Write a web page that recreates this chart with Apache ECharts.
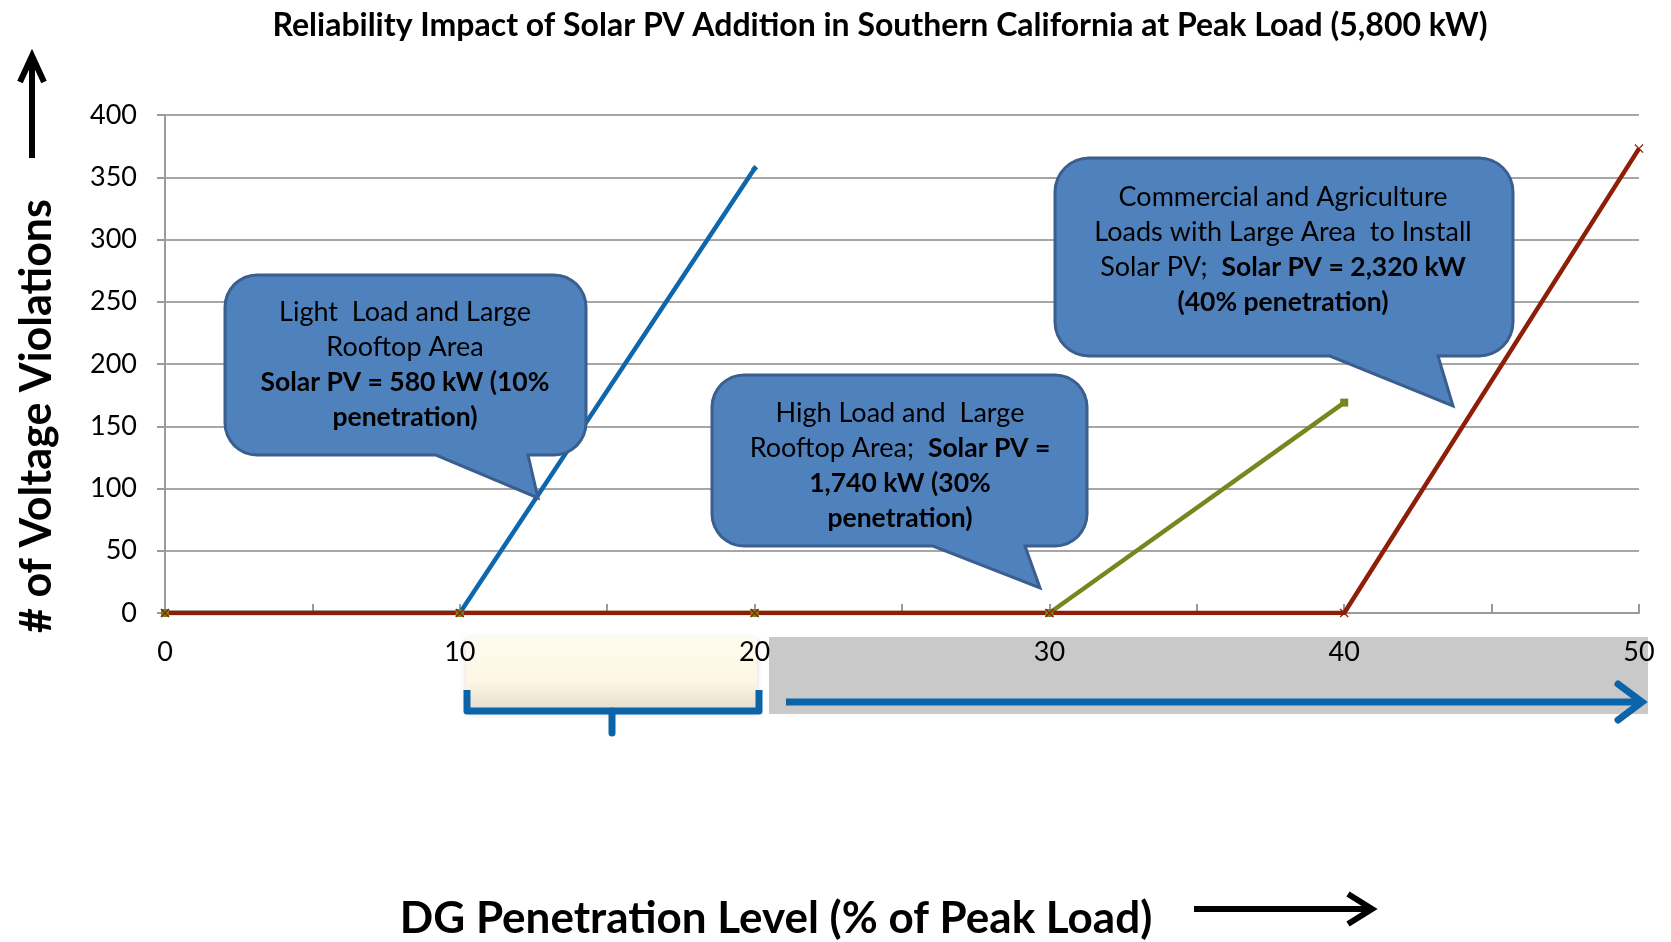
<!DOCTYPE html>
<html>
<head>
<meta charset="utf-8">
<title>Reliability Impact of Solar PV Addition</title>
<script src="https://cdn.jsdelivr.net/npm/echarts@6/dist/echarts.min.js"></script>
<style>
  html, body { margin: 0; padding: 0; background: #fff; }
  #chart { width: 1671px; height: 942px; }
</style>
</head>
<body>
<div id="chart"></div>
<script>
// data
const penetration = [0, 10, 20, 30, 40, 50];        // DG penetration level, % of peak load
const lightLoad = [0, 0, 357];                      // light load, large rooftop area
const highLoad = [0, 0, 0, 0, 169];                 // high load, large rooftop area
const commercial = [0, 0, 0, 0, 0, 373];            // commercial / agriculture loads

const FONT = 'Lato, "Open Sans", sans-serif';

function pairs(values) {
  return values.map((v, i) => [penetration[i], v]);
}

// speech bubble outline: rounded box plus a tail going down to (tx, ty)
function bubble(x, y, w, h, r, b1, b2, tx, ty) {
  const pts = [];
  const corner = (cx, cy, a0) => {
    for (let k = 0; k <= 8; k++) {
      const a = a0 + (Math.PI / 2) * k / 8;
      pts.push([cx + r * Math.cos(a), cy + r * Math.sin(a)]);
    }
  };
  corner(x + r, y + r, Math.PI);                 // top left
  corner(x + w - r, y + r, -Math.PI / 2);        // top right
  corner(x + w - r, y + h - r, 0);               // bottom right
  pts.push([b2, y + h], [tx, ty], [b1, y + h]);
  corner(x + r, y + h - r, Math.PI / 2);         // bottom left
  return pts;
}

const rich = {
  w: { color: '#ffffff', fontSize: 27, fontFamily: FONT, lineHeight: 35 },
  b: { color: '#000000', fontSize: 26.5, fontFamily: FONT, fontWeight: 'bold', lineHeight: 35 }
};

function callout(points, cx, cy, text) {
  return [
    {
      type: 'polygon', z: 100,
      shape: { points: points },
      style: { fill: '#4F81BD', stroke: '#3A5F8E', lineWidth: 3 }
    },
    {
      type: 'text', z: 101, x: cx, y: cy,
      style: { text: text, align: 'center', verticalAlign: 'middle', rich: rich, lineHeight: 35 }
    }
  ];
}

const chart = echarts.init(document.getElementById('chart'));

chart.setOption({
  backgroundColor: '#ffffff',
  animation: false,
  title: {
    text: 'Reliability Impact of Solar PV Addition in Southern California at Peak Load (5,800 kW)',
    left: 875,
    top: 5,
    textAlign: 'center',
    textStyle: { fontFamily: FONT, fontSize: 32, fontWeight: 'bold', color: '#000' }
  },
  grid: { left: 165, right: 32, top: 115, bottom: 329 },
  xAxis: {
    type: 'value',
    min: 0,
    max: 50,
    interval: 10,
    axisLine: { lineStyle: { color: '#9a9a9a', width: 2 } },
    axisTick: { inside: true, length: 9, lineStyle: { color: '#9a9a9a', width: 2 } },
    minorTick: { show: true, splitNumber: 2, length: 9, lineStyle: { color: '#9a9a9a', width: 2 } },
    splitLine: { show: false },
    axisLabel: { margin: 26, fontSize: 27, fontFamily: FONT, color: '#000' }
  },
  yAxis: {
    type: 'value',
    min: 0,
    max: 400,
    interval: 50,
    axisLine: { show: true, lineStyle: { color: '#9a9a9a', width: 2 } },
    axisTick: { show: true, length: 8, lineStyle: { color: '#9a9a9a', width: 2 } },
    splitLine: { lineStyle: { color: '#a6a6a6', width: 2 } },
    axisLabel: { margin: 28, fontSize: 27, fontFamily: FONT, color: '#000' }
  },
  series: [
    {
      name: 'Light load',
      type: 'line',
      data: pairs(lightLoad),
      symbol: 'diamond',
      symbolSize: 7,
      lineStyle: { color: '#0E66AC', width: 4.5 },
      itemStyle: { color: '#0E66AC' }
    },
    {
      name: 'High load',
      type: 'line',
      data: pairs(highLoad),
      symbol: 'rect',
      symbolSize: 8,
      lineStyle: { color: '#74881E', width: 4.5 },
      itemStyle: { color: '#74881E' }
    },
    {
      name: 'Commercial',
      type: 'line',
      data: pairs(commercial),
      symbol: 'path://M0,1L1,0L5,4L9,0L10,1L6,5L10,9L9,10L5,6L1,10L0,9L4,5Z',
      symbolSize: 9,
      lineStyle: { color: '#8E1E07', width: 4.5 },
      itemStyle: { color: '#8E1E07' }
    }
  ],
  graphic: [
    // y axis name and arrow
    {
      type: 'text', x: 37, y: 416, rotation: Math.PI / 2,
      style: {
        text: '# of Voltage Violations', align: 'center', verticalAlign: 'middle',
        fontFamily: FONT, fontSize: 43, fontWeight: 'bold', fill: '#000'
      }
    },
    {
      type: 'polyline', shape: { points: [[32, 158], [32, 58]] },
      style: { stroke: '#000', lineWidth: 6 }
    },
    {
      type: 'polyline', shape: { points: [[20, 82], [32, 56], [44, 82]] },
      style: { stroke: '#000', lineWidth: 6, fill: null, lineJoin: 'miter' }
    },
    // x axis name and arrow
    {
      type: 'text', x: 776, y: 919,
      style: {
        text: 'DG Penetration Level (% of Peak Load)', align: 'center', verticalAlign: 'middle',
        fontFamily: FONT, fontSize: 44, fontWeight: 'bold', fill: '#000'
      }
    },
    {
      type: 'polyline', shape: { points: [[1194, 909], [1368, 909]] },
      style: { stroke: '#000', lineWidth: 6 }
    },
    {
      type: 'polyline', shape: { points: [[1348, 894], [1372, 909], [1348, 924]] },
      style: { stroke: '#000', lineWidth: 6, fill: null }
    },
    // cream box with brace under 10-20
    {
      type: 'rect', z: -1,
      shape: { x: 466, y: 637, width: 291, height: 75 },
      style: {
        fill: new echarts.graphic.LinearGradient(0, 0, 0, 1, [
          { offset: 0, color: '#FFFBEE' },
          { offset: 0.6, color: '#FDF6E4' },
          { offset: 1, color: '#E2DACD' }
        ]),
        shadowBlur: 6, shadowColor: 'rgba(0,0,0,0.15)', shadowOffsetY: 2
      }
    },
    {
      type: 'polyline', shape: { points: [[467, 690], [467, 711], [759, 711], [759, 690]] },
      style: { stroke: '#0A64AA', lineWidth: 7, fill: null, lineJoin: 'round' }
    },
    {
      type: 'polyline', shape: { points: [[612, 711], [612, 733]] },
      style: { stroke: '#0A64AA', lineWidth: 7, lineCap: 'round' }
    },
    // grey band with arrow under 20-50
    {
      type: 'rect', z: -1,
      shape: { x: 769, y: 637, width: 879, height: 77 },
      style: { fill: '#C9C9C9' }
    },
    {
      type: 'polyline', shape: { points: [[786, 702], [1638, 702]] },
      style: { stroke: '#0A64AA', lineWidth: 7 }
    },
    {
      type: 'polyline', shape: { points: [[1618, 684], [1642, 702], [1618, 720]] },
      style: { stroke: '#0A64AA', lineWidth: 7, fill: null, lineCap: 'round' }
    }
  ]
    .concat(callout(bubble(225, 275, 361, 180, 32, 436, 528, 538, 498), 405, 365,
      '{w|Light  Load and Large}\n{w|Rooftop Area}\n{b|Solar PV = 580 kW (10%}\n{b|penetration)}'))
    .concat(callout(bubble(712, 375, 375, 171, 32, 933, 1025, 1040, 588), 900, 466,
      '{w|High Load and  Large}\n{w|Rooftop Area;  }{b|Solar PV =}\n{b|1,740 kW (30%}\n{b|penetration)}'))
    .concat(callout(bubble(1055, 158, 458, 198, 34, 1330, 1438, 1453, 406), 1283, 250,
      '{w|Commercial and Agriculture}\n{w|Loads with Large Area  to Install}\n{w|Solar PV;  }{b|Solar PV = 2,320 kW}\n{b|(40% penetration)}'))
});
</script>
</body>
</html>
